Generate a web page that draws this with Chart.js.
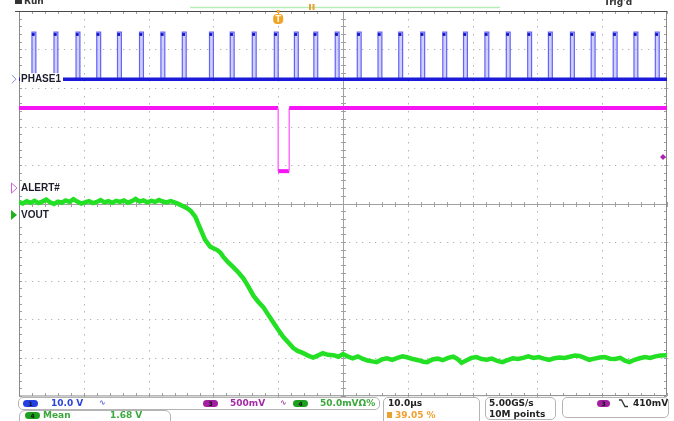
<!DOCTYPE html>
<html><head><meta charset="utf-8">
<script src="https://cdn.jsdelivr.net/npm/chart.js@4.4.1/dist/chart.umd.min.js"></script>
<style>
html,body{margin:0;padding:0;background:#fff;}
#wrap{position:relative;width:674px;height:421px;overflow:hidden;font-family:'DejaVu Sans',sans-serif;font-weight:bold;font-size:9px;}
canvas{position:absolute;left:0;top:0;}
.t{position:absolute;white-space:nowrap;line-height:10px;}
.box{position:absolute;border:1px solid #b4b4b4;border-radius:5px;}
.pill{position:absolute;width:15px;height:7px;border-radius:4px;font-size:6px;line-height:7px;text-align:center;color:#111;}
</style></head>
<body>
<div id="wrap">
<canvas id="c" width="674" height="421"></canvas>
<div class="box" style="left:18px;top:397px;width:360px;height:11px;"></div>
<div class="box" style="left:19px;top:410px;width:150px;height:16px;border-radius:6px;"></div>
<div class="box" style="left:383px;top:397px;width:95px;height:30px;"></div>
<div class="box" style="left:485px;top:397px;width:69px;height:21px;"></div>
<div class="box" style="left:562px;top:397px;width:105px;height:19px;"></div>
<div class="pill" style="left:23px;top:400px;background:#2340e0;">1</div>
<div class="t" style="left:51px;top:398px;color:#2c44d8;">10.0 V</div>
<div class="t" style="left:99px;top:398px;color:#6070d8;font-size:8px;">∿</div>
<div class="pill" style="left:203px;top:400px;background:#a020a0;">3</div>
<div class="t" style="left:230px;top:398px;color:#a42aa4;">500mV</div>
<div class="t" style="left:280px;top:398px;color:#a050a0;font-size:8px;">∿</div>
<div class="pill" style="left:293px;top:400px;background:#1ea01e;">4</div>
<div class="t" style="left:320px;top:398px;color:#3aa83a;">50.0mVΩ%</div>
<div class="pill" style="left:25px;top:412px;background:#1ea01e;">4</div>
<div class="t" style="left:43px;top:410px;color:#3aa83a;">Mean</div>
<div class="t" style="left:110px;top:410px;color:#3aa83a;">1.68 V</div>
<div class="t" style="left:388px;top:398px;color:#222;">10.0µs</div>
<div style="position:absolute;left:387px;top:412px;width:5px;height:6px;background:#e8a030;"></div>
<div class="t" style="left:395px;top:410px;color:#f0a030;">39.05 %</div>
<div class="t" style="left:489px;top:398px;color:#222;">5.00GS/s</div>
<div class="t" style="left:489px;top:409px;color:#222;">10M points</div>
<div class="pill" style="left:597px;top:400px;width:13px;background:#a020a0;">3</div>
<svg style="position:absolute;left:619px;top:399px;" width="9" height="9"><polyline points="0,1 2.5,1 6,7.5 9,7.5" fill="none" stroke="#333" stroke-width="1.3"/></svg>
<div class="t" style="left:633px;top:398px;color:#222;">410mV</div>
</div>
<script>
// ---- data (time in µs, 10 µs/div; vertical in screen divisions 0..10) ----
const timeRange = [0, 100];
const divRange = [0, 10];
const gridTimes = [10, 20, 30, 40, 60, 70, 80, 90];
const gridDivs = [1, 2, 3, 4, 6, 7, 8, 9];
const phaseLow = 8.23;
const phaseHigh = 9.45;
const pulseWidth = 0.6;
const pulseRise = [2.0, 5.4, 8.8, 12.0, 15.2, 18.6, 21.9, 25.2, 29.4, 32.6, 36.0, 39.4, 42.5, 45.5, 48.8,
  52.2, 55.4, 58.6, 62.0, 65.4, 68.6, 71.9, 75.2, 78.5, 81.7, 85.1, 88.3, 91.7, 94.9, 98.2];
const alertTrace = [[0, 7.48], [40.0, 7.48], [40.0, 5.84], [41.7, 5.84], [41.7, 7.48], [100, 7.48]];
const voutTrace = [
  [0,5.04],[0.6,5.00],[1.2,5.06],[1.8,5.02],[2.4,5.07],[3,5.01],[3.6,5.05],[4.2,5.10],[4.8,5.03],[5.4,4.99],
  [6,5.05],[6.6,5.02],[7.2,5.08],[7.8,5.04],[8.4,5.11],[9,5.05],[9.6,5.00],[10.2,5.03],[10.8,5.06],[11.4,5.01],
  [12,5.04],[12.6,5.09],[13.2,5.03],[13.8,5.06],[14.4,5.02],[15,5.07],[15.6,5.04],[16.2,5.08],[16.8,5.02],[17.4,5.06],
  [18,5.12],[18.6,5.05],[19.2,5.08],[19.8,5.03],[20.4,5.07],[21,5.04],[21.6,5.09],[22.2,5.05],[22.8,5.03],[23.4,5.06],
  [24,5.03],[24.6,4.99],[25.4,4.92],[26.0,4.87],[26.5,4.81],[27.2,4.66],[27.9,4.38],[28.7,4.06],[29.5,3.88],[30.0,3.84],
  [30.6,3.79],[31.1,3.72],[31.5,3.62],[32.3,3.47],[33.1,3.34],[33.9,3.20],[34.6,3.06],[35.4,2.84],[36.2,2.60],[37.0,2.43],
  [37.7,2.31],[38.5,2.10],[39.2,1.92],[40.0,1.72],[40.8,1.53],[41.6,1.38],[42.3,1.25],[43.0,1.17],[43.8,1.12],[44.6,1.05],
  [45.4,1.00],[46.1,1.05],[46.9,1.11],[47.7,1.07],[48.5,1.06],[49.3,1.02],[50.0,1.09],[50.7,1.03],[51.5,0.98],[52.3,1.03],
  [53.0,0.97],[53.8,0.92],[54.5,0.90],[55.2,0.88],[56.0,0.95],[56.8,0.98],[57.6,0.94],[58.4,0.99],[59.2,1.03],[60.0,1.00],
  [60.8,0.96],[61.6,0.93],[62.4,0.89],[63.0,0.88],[63.8,0.95],[64.6,0.97],[65.4,0.93],[66.2,0.99],[67.0,1.02],[67.6,0.97],
  [68.3,0.86],[69.0,0.92],[69.8,0.99],[70.6,1.01],[71.4,0.96],[72.2,0.94],[73.0,0.97],[73.8,0.91],[74.6,0.88],[75.4,0.93],
  [76.2,0.98],[77.0,0.96],[77.8,0.99],[78.6,1.03],[79.4,0.99],[80.2,1.01],[81.0,0.97],[81.8,0.94],[82.6,0.98],[83.4,1.00],
  [84.2,0.99],[85.0,1.02],[85.8,1.05],[86.5,1.04],[87.3,0.99],[88.0,0.94],[88.8,0.97],[89.6,1.00],[90.4,1.01],[91.2,0.97],
  [92.0,0.96],[92.8,0.99],[93.5,0.92],[94.2,0.88],[95.0,0.94],[95.8,0.98],[96.6,1.01],[97.4,0.99],[98.2,1.03],[99.0,1.05],[100,1.06]
];
const labels = [
  {text: 'PHASE1', level: 8.23, kind: 'phase'},
  {text: 'ALERT#', level: 5.40, kind: 'alert'},
  {text: 'VOUT', level: 4.70, kind: 'vout'}
];
const triggerTime = 40.0;
const triggerLevel = 6.21;

// ---- build library datasets ----
const pulseData = [{x: timeRange[0], y: phaseLow}];
pulseRise.forEach(t => {
  pulseData.push({x: t, y: phaseLow}, {x: t, y: phaseHigh}, {x: t + pulseWidth, y: phaseHigh}, {x: t + pulseWidth, y: phaseLow});
});
pulseData.push({x: timeRange[1], y: phaseLow});
const pulseTops = pulseRise.map(t => ({x: t + 0.2, y: phaseHigh - 0.06}));
const toXY = arr => arr.map(p => ({x: p[0], y: p[1]}));

const scopePlugin = {
  id: 'scope',
  beforeDatasetsDraw(chart) {
    const {ctx, chartArea: a, scales: {x, y}} = chart;
    ctx.save();
    // dotted grid
    ctx.fillStyle = '#b4b4b4';
    gridTimes.forEach(t => {
      const px = Math.round(x.getPixelForValue(t));
      for (let d = 0; d <= 50; d++) {
        const py = y.getPixelForValue(d / 5);
        ctx.fillRect(px, Math.round(py), 1, 1.5);
      }
    });
    gridDivs.forEach(dv => {
      const py = Math.round(y.getPixelForValue(dv));
      for (let k = 0; k <= 100; k++) {
        const px = x.getPixelForValue(k);
        ctx.fillRect(Math.round(px), py, 1.3, 1);
      }
    });
    // centre cross
    const cx = Math.round(x.getPixelForValue(50)) + 0.5;
    const cy = Math.round(y.getPixelForValue(5)) + 0.5;
    ctx.strokeStyle = '#a0a0a0';
    ctx.lineWidth = 1;
    ctx.beginPath();
    ctx.moveTo(a.left, cy); ctx.lineTo(a.right, cy);
    ctx.moveTo(cx, a.top); ctx.lineTo(cx, a.bottom);
    for (let k = 0; k <= 50; k++) {
      const px = Math.round(x.getPixelForValue(k * 2)) + 0.5;
      ctx.moveTo(px, cy - 2.5); ctx.lineTo(px, cy + 2.5);
      ctx.moveTo(px, a.top); ctx.lineTo(px, a.top + 3);
      ctx.moveTo(px, a.bottom); ctx.lineTo(px, a.bottom - 3);
    }
    for (let k = 0; k <= 50; k++) {
      const py = Math.round(y.getPixelForValue(k / 5)) + 0.5;
      ctx.moveTo(cx - 2.5, py); ctx.lineTo(cx + 2.5, py);
      ctx.moveTo(a.left, py); ctx.lineTo(a.left + 3, py);
      ctx.moveTo(a.right, py); ctx.lineTo(a.right - 3, py);
    }
    ctx.stroke();
    // frame
    ctx.strokeStyle = '#8a8a8a';
    ctx.beginPath();
    ctx.moveTo(a.left + 0.5, a.top); ctx.lineTo(a.left + 0.5, a.bottom);
    ctx.lineTo(a.right - 0.5, a.bottom - 0.5); ctx.lineTo(a.right - 0.5, a.top);
    ctx.stroke();
    ctx.strokeStyle = '#4a4a4a';
    ctx.beginPath();
    ctx.moveTo(a.left - 4, a.top + 0.5); ctx.lineTo(a.right, a.top + 0.5);
    ctx.stroke();
    ctx.restore();
  },
  afterDatasetsDraw(chart) {
    const {ctx, chartArea: a, scales: {x, y}} = chart;
    ctx.save();
    ctx.font = 'bold 10px "Liberation Sans", sans-serif';
    ctx.textBaseline = 'middle';
    labels.forEach(l => {
      const py = y.getPixelForValue(l.level);
      const w = ctx.measureText(l.text).width;
      ctx.fillStyle = '#ffffff';
      ctx.fillRect(a.left + 1, py - 6, w + 3, 12);
      ctx.fillStyle = '#1c1c2c';
      ctx.fillText(l.text, a.left + 2, py + 0.5);
      // ground markers
      ctx.beginPath();
      if (l.kind === 'phase') {
        ctx.strokeStyle = '#8090c8';
        ctx.lineWidth = 1;
        ctx.moveTo(12, py - 4); ctx.lineTo(16, py); ctx.lineTo(12, py + 4);
        ctx.stroke();
      } else if (l.kind === 'alert') {
        ctx.strokeStyle = '#d060d0';
        ctx.lineWidth = 1;
        ctx.moveTo(11.5, py - 5); ctx.lineTo(17, py); ctx.lineTo(11.5, py + 5); ctx.closePath();
        ctx.stroke();
      } else {
        ctx.fillStyle = '#22b022';
        ctx.moveTo(11, py - 5); ctx.lineTo(17, py); ctx.lineTo(11, py + 5); ctx.closePath();
        ctx.fill();
      }
    });
    // trigger level marker (right)
    const ty = y.getPixelForValue(triggerLevel);
    ctx.fillStyle = '#b020b0';
    ctx.beginPath();
    ctx.moveTo(a.right - 7, ty); ctx.lineTo(a.right - 4, ty - 3); ctx.lineTo(a.right - 1, ty); ctx.lineTo(a.right - 4, ty + 3);
    ctx.closePath(); ctx.fill();
    // trigger position marker (top)
    const tx = x.getPixelForValue(triggerTime);
    ctx.fillStyle = '#f0a428';
    ctx.fillRect(tx - 1.5, a.top - 1, 3, 3);
    ctx.beginPath();
    ctx.roundRect(tx - 5, a.top + 3, 10, 10, 4);
    ctx.fill();
    ctx.fillStyle = '#fff6d8';
    ctx.font = 'bold 8px "DejaVu Sans", sans-serif';
    ctx.textAlign = 'center';
    ctx.fillText('T', tx, a.top + 8.5);
    ctx.restore();
  },
  afterDraw(chart) {
    const {ctx} = chart;
    ctx.save();
    // record view bar
    ctx.strokeStyle = '#b6ecb6';
    ctx.lineWidth = 1.3;
    ctx.beginPath(); ctx.moveTo(190, 7.5); ctx.lineTo(500, 7.5); ctx.stroke();
    ctx.fillStyle = '#e8a030';
    ctx.fillRect(309, 4, 2, 6); ctx.fillRect(312.5, 4, 2, 6);
    // clipped status texts at top
    ctx.fillStyle = '#333';
    ctx.font = 'bold 9px "DejaVu Sans", sans-serif';
    ctx.textBaseline = 'alphabetic';
    ctx.fillRect(15, 0, 7, 4);
    ctx.fillText('Run', 24, 4);
    ctx.fillText("Trig'd", 604, 5);
    ctx.restore();
  }
};

new Chart(document.getElementById('c'), {
  type: 'line',
  data: {
    datasets: [
      {data: toXY(voutTrace), borderColor: '#24e024', borderWidth: 4.5, pointRadius: 0, tension: 0},
      {data: toXY(alertTrace), borderColor: '#f414f4', borderWidth: 4, pointRadius: 0, tension: 0,
        segment: {
          borderWidth: c => c.p0.parsed.x === c.p1.parsed.x ? 1.5 : 4,
          borderColor: c => c.p0.parsed.x === c.p1.parsed.x ? '#ff70ff' : '#f414f4'
        }},
      {data: pulseTops, showLine: false, pointRadius: 2, pointStyle: 'rect', pointBackgroundColor: '#1414c8', pointBorderWidth: 0},
      {data: [{x: timeRange[0], y: phaseLow}, {x: timeRange[1], y: phaseLow}], borderColor: '#1a1ad8', borderWidth: 3.5, pointRadius: 0},
      {data: pulseData, borderColor: '#6464f4', borderWidth: 1.2, pointRadius: 0, tension: 0,
        fill: {value: phaseLow}, backgroundColor: 'rgba(170,170,250,0.55)'}
    ]
  },
  options: {
    responsive: false,
    animation: false,
    devicePixelRatio: 1,
    layout: {padding: {left: 19, top: 11, right: 7, bottom: 25}},
    plugins: {legend: {display: false}, tooltip: {enabled: false}},
    scales: {
      x: {type: 'linear', min: timeRange[0], max: timeRange[1], display: false},
      y: {type: 'linear', min: divRange[0], max: divRange[1], display: false}
    }
  },
  plugins: [scopePlugin]
});
</script>
</body></html>
